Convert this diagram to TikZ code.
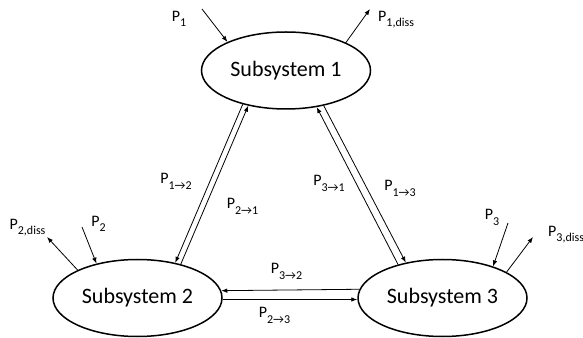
\documentclass[tikz,border=0pt]{standalone}
\usepackage{fontspec}
\setmainfont{Carlito}
\usetikzlibrary{shapes.geometric,arrows.meta}
% power symbol with a lowered subscript
\newcommand\Pw[1]{P\raisebox{-5.5pt}{\fontsize{12}{12}\selectfont #1}}
\begin{document}
\begin{tikzpicture}[x=1pt,y=1pt,
  subsys/.style={draw, ellipse, line width=1.5pt, minimum width=169pt,
    minimum height=77pt, inner sep=0pt, font=\fontsize{22}{26}\selectfont},
  flow/.style={-{Latex[length=6pt,width=4.5pt]}, line width=0.8pt},
  lbl/.style={font=\fontsize{16}{18}\selectfont, inner sep=0pt}]
\useasboundingbox (0,0) rectangle (583,337);

% the three subsystems
\node[subsys] (s1) at (286,266.5) {Subsystem 1};
\node[subsys] (s2) at (137.5,39) {Subsystem 2};
\node[subsys] (s3) at (442.5,39) {Subsystem 3};

% power exchanged between subsystems
\draw[flow] (s1.218.3) -- (s2.43);
\draw[flow] (s2.38.4) -- (s1.223.1);
\draw[flow] (s3.143.2) -- (s1.310.7);
\draw[flow] (s1.317.6) -- (s3.136.2);
\draw[flow] (s3.174.1) -- (s2.5.9);
\draw[flow] (s2.359) -- (s3.181);

% supplied and dissipated power
\coordinate (in1) at (202,328);
\coordinate (out1) at (370,328);
\coordinate (in2) at (82,110);
\coordinate (out2) at (47,100);
\coordinate (in3) at (508,114);
\coordinate (out3) at (533,100);
\draw[flow] (in1) -- (s1.154.2);
\draw[flow] (s1.25.8) -- (out1);
\draw[flow] (in2) -- (s2.140.5);
\draw[flow] (s2.155.5) -- (out2);
\draw[flow] (in3) -- (s3.32);
\draw[flow] (s3.22.7) -- (out3);

% labels
\node[lbl] (lp1) at (179,318.3) {\Pw{1}};
\node[lbl, anchor=west] (lp1d) at (378,317.3) {\Pw{1,diss}};
\node[lbl] (lp2) at (98.5,113) {\Pw{2}};
\node[lbl] (lp2d) at (27.5,109.5) {\Pw{2,diss}};
\node[lbl] (lp3) at (492,119.5) {\Pw{3}};
\node[lbl, anchor=west] (lp3d) at (548,102.5) {\Pw{3,diss}};
\node[lbl] (l12) at (176,155.5) {\Pw{1→2}};
\node[lbl] (l21) at (242.5,130.5) {\Pw{2→1}};
\node[lbl] (l31) at (329,153.5) {\Pw{3→1}};
\node[lbl] (l13) at (400,148.5) {\Pw{1→3}};
\node[lbl] (l32) at (286.5,65.5) {\Pw{3→2}};
\node[lbl] (l23) at (274.5,21.5) {\Pw{2→3}};
\end{tikzpicture}
\end{document}
